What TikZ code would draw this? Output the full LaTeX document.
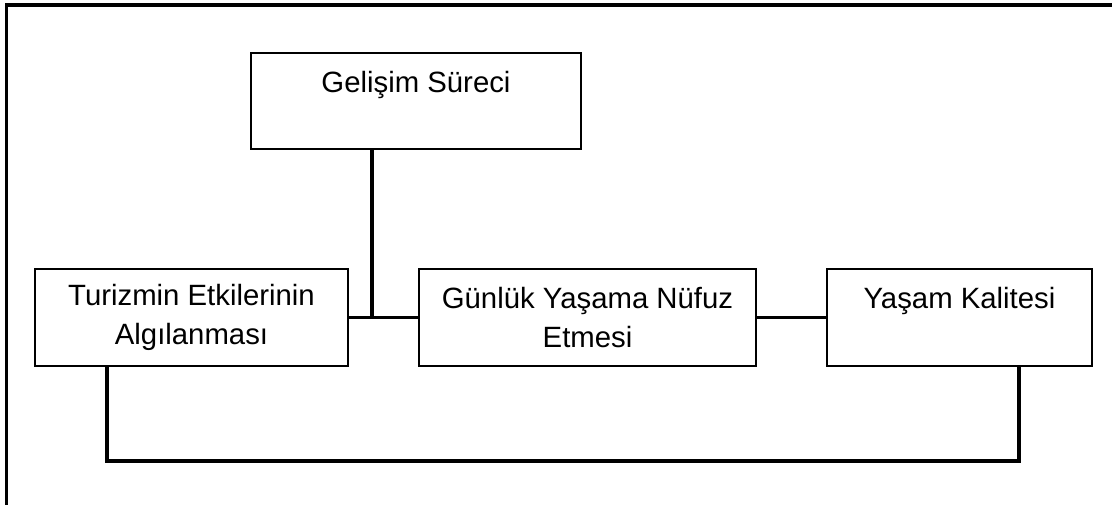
\documentclass[tikz,border=0pt]{standalone}
\usepackage{fontspec}
\setmainfont{Liberation Sans}
\usetikzlibrary{positioning,calc}

\tikzset{
    blok/.style={draw, rectangle, line width=1pt, align=center, inner sep=0pt,
        font=\fontsize{22}{29}\selectfont},
    hat/.style={line width=2.6pt}
}

\begin{document}
\begin{tikzpicture}[x=0.75pt, y=-0.75pt]
    \useasboundingbox (0,0) rectangle (1112,504);
    % outer frame
    \draw[line width=2.6pt] (6.5,5) rectangle (1200,600);

    \node[blok, minimum width=330*0.75pt, minimum height=96*0.75pt] (gel) at (416,101) {Gelişim Süreci\\ \mbox{}};
    \node[blok, minimum width=313*0.75pt, minimum height=97*0.75pt] (tur) at (191.5,317.5) {Turizmin Etkilerinin\\ Algılanması};
    \node[blok, minimum width=337*0.75pt, minimum height=97*0.75pt] (gun) at (587.5,317.5) {Günlük Yaşama Nüfuz\\ Etmesi};
    \node[blok, minimum width=265*0.75pt, minimum height=97*0.75pt] (yas) at (959.5,317.5) {Yaşam Kalitesi\\ \mbox{}};

    \coordinate (kol) at (372,318);
    \coordinate (solalt) at (107,461);
    \coordinate (sagalt) at (1019,461);

    \draw[hat] (tur.east) -- (gun.west);
    \draw[hat] (kol |- gel.south) -- (kol);
    \draw[hat] (gun.east) -- (yas.west);
    \draw[hat] (solalt |- tur.south) -- (solalt) -- (sagalt) -- (sagalt |- yas.south);
\end{tikzpicture}
\end{document}
